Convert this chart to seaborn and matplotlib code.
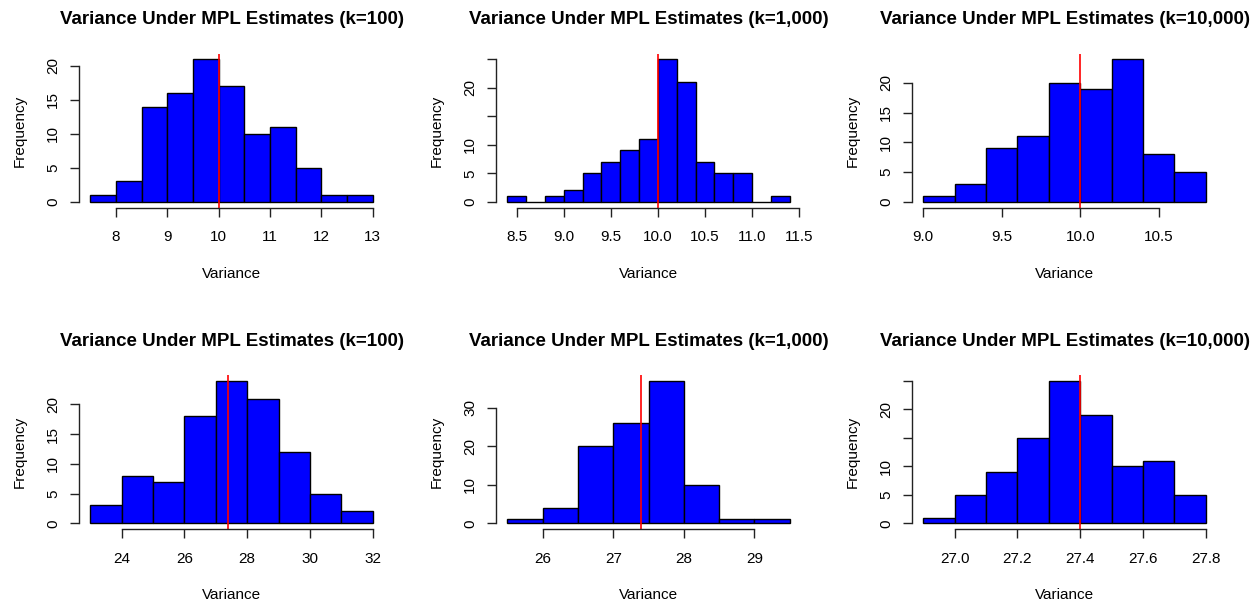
import matplotlib
matplotlib.use("Agg")
from matplotlib import pyplot as plt
import seaborn as sns
import pandas as pd
import numpy as np

sns.set_style("ticks")
plt.rcParams['font.family'] = ['Liberation Sans', 'DejaVu Sans']
plt.rcParams['text.color'] = 'black'
plt.rcParams['axes.labelcolor'] = 'black'
plt.rcParams['xtick.labelcolor'] = 'black'
plt.rcParams['ytick.labelcolor'] = 'black'

# bin edges and counts, one pair per panel
edges_100a = [7.5, 8.0, 8.5, 9.0, 9.5, 10.0, 10.5, 11.0, 11.5, 12.0, 12.5, 13.0]
counts_100a = [1, 3, 14, 16, 21, 17, 10, 11, 5, 1, 1]

edges_1000a = [8.4, 8.6, 8.8, 9.0, 9.2, 9.4, 9.6, 9.8, 10.0, 10.2, 10.4, 10.6, 10.8, 11.0, 11.2, 11.4]
counts_1000a = [1, 0, 1, 2, 5, 7, 9, 11, 25, 21, 7, 5, 5, 0, 1]

edges_10000a = [9.0, 9.2, 9.4, 9.6, 9.8, 10.0, 10.2, 10.4, 10.6, 10.8]
counts_10000a = [1, 3, 9, 11, 20, 19, 24, 8, 5]

edges_100b = [23, 24, 25, 26, 27, 28, 29, 30, 31, 32]
counts_100b = [3, 8, 7, 18, 24, 21, 12, 5, 2]

edges_1000b = [25.5, 26.0, 26.5, 27.0, 27.5, 28.0, 28.5, 29.0, 29.5]
counts_1000b = [1, 4, 20, 26, 37, 10, 1, 1]

edges_10000b = [26.9, 27.0, 27.1, 27.2, 27.3, 27.4, 27.5, 27.6, 27.7, 27.8]
counts_10000b = [1, 5, 9, 15, 25, 19, 10, 11, 5]

titles = ["Variance Under MPL Estimates (k=100)",
          "Variance Under MPL Estimates (k=1,000)",
          "Variance Under MPL Estimates (k=10,000)"] * 2
true_values = [10, 10, 10, 27.4, 27.4, 27.4]

xticks = [[8, 9, 10, 11, 12, 13],
          [8.5, 9.0, 9.5, 10.0, 10.5, 11.0, 11.5],
          [9.0, 9.5, 10.0, 10.5],
          [24, 26, 28, 30, 32],
          [26, 27, 28, 29],
          [27.0, 27.2, 27.4, 27.6, 27.8]]
xticklabels = [["8", "9", "10", "11", "12", "13"],
               ["8.5", "9.0", "9.5", "10.0", "10.5", "11.0", "11.5"],
               ["9.0", "9.5", "10.0", "10.5"],
               ["24", "26", "28", "30", "32"],
               ["26", "27", "28", "29"],
               ["27.0", "27.2", "27.4", "27.6", "27.8"]]
yticks = [[0, 5, 10, 15, 20],
          [0, 5, 10, 15, 20, 25],
          [0, 5, 10, 15, 20],
          [0, 5, 10, 15, 20],
          [0, 10, 20, 30],
          [0, 5, 10, 15, 20, 25]]
yticklabels = [["0", "5", "10", "15", "20"],
               ["0", "5", "10", "", "20", ""],
               ["0", "5", "10", "15", "20"],
               ["0", "5", "10", "15", "20"],
               ["0", "10", "20", "30"],
               ["0", "5", "10", "", "20", ""]]

panels = [(edges_100a, counts_100a), (edges_1000a, counts_1000a), (edges_10000a, counts_10000a),
          (edges_100b, counts_100b), (edges_1000b, counts_1000b), (edges_10000b, counts_10000b)]

fig = plt.figure(figsize=(12.6, 6.03), dpi=100)
lefts = [79, 496, 912]
tops = [53.5, 375]
W, H = 1260, 603

for i, (edges, counts) in enumerate(panels):
    row, col = divmod(i, 3)
    ax = fig.add_axes([lefts[col] / W, 1 - (tops[row] + 154) / H, 305 / W, 154 / H])
    e = np.array(edges, dtype=float)
    df = pd.DataFrame({"variance": (e[:-1] + e[1:]) / 2, "n": counts})
    sns.histplot(data=df, x="variance", weights="n", bins=list(edges), color="#0000ff",
                 edgecolor="black", linewidth=1, alpha=1, ax=ax)
    ax.axvline(true_values[i], color="red", linewidth=1.2)

    span = e[-1] - e[0]
    ax.set_xlim(e[0] - 0.04 * span, e[-1] + 0.04 * span)
    top = max(counts)
    ax.set_ylim(-0.04 * top, top * 1.04)

    ax.set_xticks(xticks[i])
    ax.set_xticklabels(xticklabels[i])
    ax.set_yticks(yticks[i])
    ax.set_yticklabels(yticklabels[i], rotation=90, va="center")

    for s in ["top", "right"]:
        ax.spines[s].set_visible(False)
    ax.spines["bottom"].set_bounds(xticks[i][0], xticks[i][-1])
    ax.spines["left"].set_bounds(yticks[i][0], yticks[i][-1])
    for s in ["bottom", "left"]:
        ax.spines[s].set_linewidth(1)
        ax.spines[s].set_color("#222222")

    ax.tick_params(axis="x", length=6.5, width=1, labelsize=11, pad=10, color="#222222")
    ax.tick_params(axis="y", length=6.5, width=1, labelsize=11, pad=7, color="#222222")
    ax.set_xlabel("Variance", fontsize=11, labelpad=16)
    ax.set_ylabel("Frequency", fontsize=11, labelpad=14)
    ax.set_title(titles[i], fontsize=13.5, fontweight="bold", pad=21)

fig.savefig("out.png", dpi=100)
